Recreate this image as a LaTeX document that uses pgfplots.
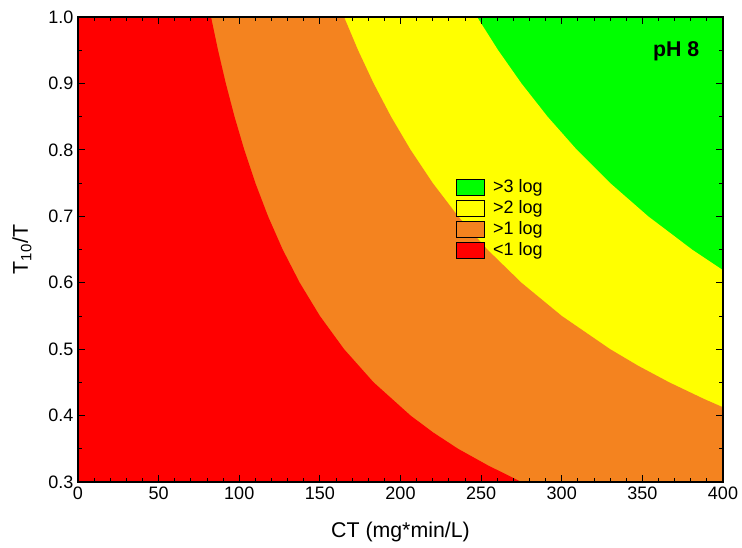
\documentclass[border=0pt]{standalone}
\usepackage{fontspec}
\setmainfont{Liberation Sans}
\usepackage{pgfplots}
\pgfplotsset{compat=1.18}
\definecolor{cgreen}{RGB}{0,255,0}
\definecolor{cyellow}{RGB}{255,255,0}
\definecolor{corange}{RGB}{244,131,31}
\definecolor{cred}{RGB}{255,0,0}
\begin{document}
\begin{tikzpicture}
\begin{axis}[
 scale only axis, width=483.75pt, height=348.75pt,
 xmin=0, xmax=400, ymin=0.3, ymax=1.0,
 xtick={0,50,100,150,200,250,300,350,400},
 ytick={0.3,0.4,0.5,0.6,0.7,0.8,0.9,1.0},
 minor x tick num=4, minor y tick num=1,
 tick align=inside,
 major tick length=5pt, minor tick length=3pt,
 tick style={black, line width=0.6pt},
 axis line style={line width=0.8pt},
 axis on top,
 /pgf/number format/assume math mode=true,
 yticklabel style={/pgf/number format/.cd, fixed, fixed zerofill, precision=1},
 ticklabel style={font=\fontsize{13.5}{16}\selectfont},
 xlabel={CT (mg*min/L)}, ylabel={T\textsubscript{10}/T},
 label style={font=\fontsize{16}{19}\selectfont},
 xlabel style={at={(axis description cs:0.5,-0.107)}, anchor=center},
 ylabel style={at={(axis description cs:-0.087,0.5)}, anchor=center},
 legend style={draw=none, fill=none, at={(0.585,0.655)}, anchor=north west,
   font=\fontsize{13.5}{16}\selectfont, row sep=1.5pt, inner sep=0pt,
   nodes={inner sep=1.5pt},
   /tikz/every odd column/.append style={column sep=5pt}},
 legend image code/.code={\draw[#1, draw=black, line width=0.6pt] (0pt,-6pt) rectangle (21pt,6pt);},
]
\addplot[fill=cgreen, draw=none] coordinates {(0,0.3)(400,0.3)(400,1)(0,1)} -- cycle;
\addlegendentry{>3 log}
\addplot[fill=cyellow, draw=none] coordinates {
(0,0.3)(400,0.3)(400,0.61875)(380.77,0.65)(353.57,0.70)(330,0.75)(309.38,0.80)
(291.18,0.85)(275,0.90)(260.53,0.95)(247.5,1.0)(0,1.0)} -- cycle;
\addlegendentry{>2 log}
\addplot[fill=corange, draw=none] coordinates {
(0,0.3)(400,0.3)(400,0.4125)(388.24,0.425)(366.67,0.45)(347.37,0.475)(330,0.50)(300,0.55)(275,0.60)
(253.85,0.65)(235.71,0.70)(220,0.75)(206.25,0.80)(194.12,0.85)(183.33,0.90)
(173.68,0.95)(165,1.0)(0,1.0)} -- cycle;
\addlegendentry{>1 log}
\addplot[fill=cred, draw=none] coordinates {
(0,0.3)(275,0.3)(254.24,0.325)(235.71,0.35)(220,0.375)(206.25,0.40)(183.33,0.45)(165,0.50)(150,0.55)
(137.5,0.60)(126.92,0.65)(117.86,0.70)(110,0.75)(103.13,0.80)(97.06,0.85)
(91.67,0.90)(86.84,0.95)(82.5,1.0)(0,1.0)} -- cycle;
\addlegendentry{<1 log}
\node[font=\bfseries\fontsize{16}{19}\selectfont] at (axis cs:371,0.948) {pH 8};
\end{axis}
\pgfresetboundingbox
\path ([shift={(-58.5pt,-49.5pt)}]current axis.south west) rectangle ([shift={(498pt,361.5pt)}]current axis.south west);
\end{tikzpicture}
\end{document}
